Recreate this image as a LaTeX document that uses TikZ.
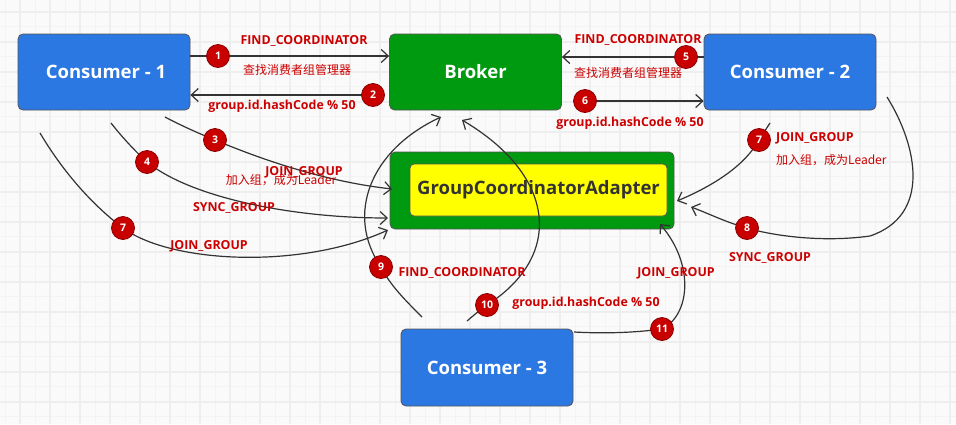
\documentclass[tikz,border=0pt]{standalone}
\usepackage{fontspec}
\setmainfont{Open Sans}[BoldFont={Open Sans Bold}]
\newfontfamily\cjk{Noto Sans CJK SC}
\usetikzlibrary{arrows.meta}
\definecolor{bgc}{HTML}{FAFAFA}
\definecolor{gmaj}{HTML}{EEEEEE}
\definecolor{gmin}{HTML}{F3F3F3}
\definecolor{cblue}{HTML}{2C78E2}
\definecolor{bgreen}{HTML}{009A10}
\definecolor{boxline}{HTML}{555555}
\definecolor{lred}{HTML}{CC0000}
\definecolor{nred}{HTML}{C80000}
\definecolor{nredd}{HTML}{8A0000}
\definecolor{lgrey}{HTML}{333333}
\definecolor{dtext}{HTML}{333333}
\definecolor{yel}{HTML}{FFFF00}
\tikzset{
  box/.style={draw=boxline, rounded corners=5pt, minimum width=172pt, minimum height=76pt, inner sep=0pt, text=white, font=\fontsize{18.5}{22}\selectfont\bfseries, line width=0.8pt},
  cons/.style={box, fill=cblue},
  brk/.style={box, fill=bgreen},
  num/.style={circle, fill=nred, draw=nredd, line width=0.8pt, minimum size=23pt, inner sep=0pt, text=white, font=\fontsize{10.5}{12}\selectfont\bfseries},
  lbl/.style={text=lred, font=\fontsize{12.4}{14}\selectfont\bfseries, inner sep=0pt},
  clbl/.style={text=lred, font=\cjk\fontsize{12}{14}\selectfont, inner sep=0pt},
  conn/.style={draw=lgrey, line width=1.2pt, -{Straight Barb[length=7pt,width=13pt]}},
}
\begin{document}
\begin{tikzpicture}[x=1pt,y=-1pt]
\useasboundingbox (0,0) rectangle (956,424);
% background grid
\fill[bgc] (0,0) rectangle (956,424);
\foreach \x in {5,35,...,950} \draw[gmin, line width=1pt] (\x,0) -- (\x,424);
\foreach \y in {-3.3,26.7,...,424} \draw[gmin, line width=1pt] (0,\y) -- (956,\y);
\foreach \x in {20,50,...,950} \draw[gmaj, line width=1.6pt] (\x,0) -- (\x,424);
\foreach \y in {11.7,41.7,...,424} \draw[gmaj, line width=1.6pt] (0,\y) -- (956,\y);

% boxes
\node[cons] (c1) at (104,72) {\hspace*{4pt}Consumer - 1};
\node[brk] (broker) at (475.5,72) {Broker};
\node[cons] (c2) at (790,72) {Consumer - 2};
\node[cons, minimum height=77pt] (c3) at (487,367.5) {Consumer - 3};
\node[brk, minimum width=284pt, minimum height=77pt] (gca) at (532,190.5) {};
\node[draw=boxline, fill=yel, rounded corners=4pt, line width=0.8pt, minimum width=257pt, minimum height=52pt, inner sep=0pt, text=dtext, font=\fontsize{18.5}{22}\selectfont\bfseries] (gcai) at (538.5,190) {GroupCoordinatorAdapter};

% circle positions
\coordinate (p1) at (218,56);
\coordinate (p2) at (373,95);
\coordinate (p5) at (686,57);
\coordinate (p6) at (585,101);
\coordinate (p3) at (215,140);
\coordinate (p4) at (147,162);
\coordinate (p7a) at (123,228);
\coordinate (p9) at (381,267);
\coordinate (p10) at (487,305);
\coordinate (p11) at (662,329);
\coordinate (p7b) at (759,140);
\coordinate (p8) at (747,228);

% free ends
\coordinate (s3) at (165,117);
\coordinate (e3) at (392,189);
\coordinate (s4) at (111,123);
\coordinate (e4) at (388,218);
\coordinate (s7a) at (40,133);
\coordinate (e7a) at (388,230);
\coordinate (s9) at (422,317);
\coordinate (e9) at (441,117);
\coordinate (s10) at (467,321);
\coordinate (e10) at (462,120);
\coordinate (s11) at (574,332);
\coordinate (e11) at (660,224);
\coordinate (s7b) at (770,123);
\coordinate (e7b) at (677,201);
\coordinate (s8) at (887,97);
\coordinate (e8) at (691,207);

% straight connectors
\draw[conn] ([yshift=16pt]c1.east) -- ([yshift=16pt]broker.west);
\draw[conn] (p2) -- (p2 -| c1.east);
\draw[conn] ([yshift=15pt]c2.west) -- ([yshift=15pt]broker.east);
\draw[conn] (p6) -- (p6 -| c2.west);

% curved connectors
\draw[conn] (s3) .. controls (182,126) and (198,133) .. (p3) .. controls (270,163) and (330,182) .. (e3);
\draw[conn] (s4) .. controls (122,137) and (134,150) .. (p4) .. controls (190,197) and (290,218) .. (e4);
\draw[conn] (s7a) .. controls (65,175) and (95,207) .. (p7a) .. controls (170,263) and (300,270) .. (e7a);
\draw[conn] (s9) .. controls (405,300) and (390,285) .. (p9) .. controls (345,215) and (370,150) .. (e9);
\draw[conn] (s10) .. controls (474,315) and (480,310) .. (p10) .. controls (565,255) and (555,175) .. (e10);
\draw[conn] (s11) .. controls (610,334) and (640,332) .. (p11) .. controls (690,315) and (695,265) .. (e11);
\draw[conn] (s7b) .. controls (766,129) and (763,134) .. (p7b) .. controls (745,165) and (715,185) .. (e7b);
\draw[conn] (s8) .. controls (917,145) and (932,215) .. (870,236) .. controls (820,243) and (770,235) .. (p8) .. controls (725,222) and (710,214) .. (e8);

% numbered circles
\node[num] (n1) at (p1) {1};
\node[num] (n2) at (p2) {2};
\node[num] (n3) at (p3) {3};
\node[num] (n4) at (p4) {4};
\node[num] (n5) at (p5) {5};
\node[num] (n6) at (p6) {6};
\node[num] (n7a) at (p7a) {7};
\node[num] (n7b) at (p7b) {7};
\node[num] (n8) at (p8) {8};
\node[num] (n9) at (p9) {9};
\node[num] (n10) at (p10) {10};
\node[num] (n11) at (p11) {11};

% labels
\node[lbl] (t1) at (304,41) {FIND\_COORDINATOR};
\node[clbl] (t1c) at (297,70) {查找消费者组管理器};
\node[lbl] (t2) at (282,106) {group.id.hashCode \% 50};
\node[lbl] (t5) at (638,40) {FIND\_COORDINATOR};
\node[clbl] (t5c) at (628,73) {查找消费者组管理器};
\node[lbl] (t6) at (630,123) {group.id.hashCode \% 50};
\node[clbl] (t3c) at (281,180) {加入组，成为Leader};
\node[lbl] (t3) at (304,172) {JOIN\_GROUP};
\node[lbl] (t4) at (234,208) {SYNC\_GROUP};
\node[lbl] (t7a) at (209,246) {JOIN\_GROUP};
\node[lbl] (t9) at (462,273) {FIND\_COORDINATOR};
\node[lbl] (t10) at (586,303) {group.id.hashCode \% 50};
\node[lbl] (t11) at (676,273) {JOIN\_GROUP};
\node[lbl, anchor=west] (t7b) at (776,138) {JOIN\_GROUP};
\node[clbl, anchor=west] (t7bc) at (776,160) {加入组，成为Leader};
\node[lbl] (t8) at (770,258) {SYNC\_GROUP};
\end{tikzpicture}
\end{document}
